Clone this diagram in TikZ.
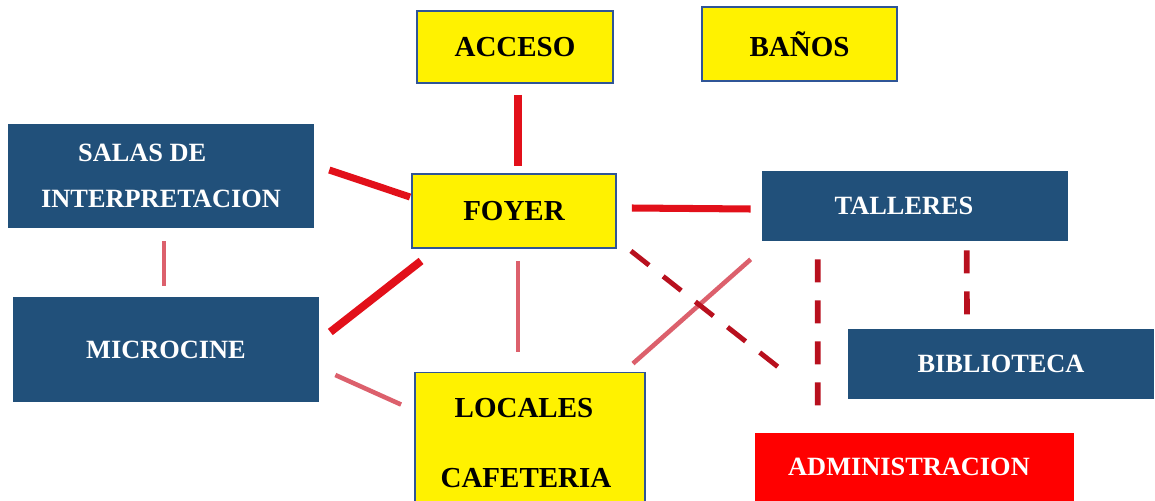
\documentclass[tikz,border=0pt]{standalone}
\usepackage{fontspec}
\setmainfont{Liberation Serif}
\usetikzlibrary{positioning,calc}

\definecolor{roomblue}{RGB}{33,80,122}
\definecolor{roomedge}{RGB}{47,85,151}
\definecolor{linkred}{RGB}{226,16,26}
\definecolor{linksoft}{RGB}{220,96,108}
\definecolor{linkdark}{RGB}{184,16,30}

\begin{document}
\begin{tikzpicture}[x=0.02cm,y=-0.02cm,
  room/.style={rectangle, inner sep=0pt, align=center,
    font=\bfseries\fontsize{15}{18}\selectfont},
  yellowroom/.style={room, fill=yellow, draw=roomedge, line width=1.1pt, text=black,
    font=\bfseries\fontsize{16.5}{19}\selectfont},
  blueroom/.style={room, fill=roomblue, text=white},
  redroom/.style={room, fill=red, text=white},
  strong/.style={line width=4pt, draw=linkred},
  soft/.style={line width=2.6pt, draw=linksoft},
  weak/.style={line width=3.2pt, draw=linkdark, dash pattern=on 0.46cm off 0.36cm}]

\useasboundingbox (0,0) rectangle (1155,500);
\clip (0,0) rectangle (1155,500);

\node[yellowroom, minimum width=3.92cm, minimum height=1.44cm] (acceso) at (515,47) {ACCESO};

\node[yellowroom, minimum width=3.9cm, minimum height=1.48cm] (banos) at (799.5,44) {BAÑOS};

\node[blueroom, minimum width=6.12cm, minimum height=2.08cm, align=left] (salas) at (161,176) {\hspace*{0.74cm}SALAS DE\\[8pt]INTERPRETACION};

\node[yellowroom, minimum width=4.08cm, minimum height=1.48cm] (foyer) at (514,211) {FOYER};

\node[blueroom, minimum width=6.12cm, minimum height=1.4cm] (talleres) at (915,206) {TALLERES\hspace*{0.44cm}};

\node[blueroom, minimum width=6.12cm, minimum height=2.1cm] (microcine) at (166,349.5) {MICROCINE};

\node[blueroom, minimum width=6.12cm, minimum height=1.4cm] (biblioteca) at (1001,364) {BIBLIOTECA};

\node[yellowroom, minimum width=4.6cm, minimum height=2.82cm] (locales) at (530,443) {LOCALES\hspace*{0.24cm}\\[21pt]CAFETERIA\hspace*{0.16cm}};

\node[redroom, minimum width=6.38cm, minimum height=1.36cm] (admin) at (914.5,467) {ADMINISTRACION\hspace*{0.22cm}};

% links to the foyer
\draw[strong] ($(acceso.south)+(3,11)$) -- ($(foyer.north)+(4,-7)$);
\draw[strong] ($(salas.east)+(15,-6)$) -- ($(foyer.west)+(-1,-14)$);
\draw[strong] ($(foyer.east)+(15,-3)$) -- ($(talleres.west)+(-11,3)$);
\draw[strong, line width=4.5pt] ($(foyer.south west)+(10,12)$) -- ($(microcine.east)+(11,-17.5)$);

\draw[soft] ($(foyer.south)+(4,12)$) -- ($(locales.north)+(-12,-20)$);
\draw[soft] ($(salas.south)+(3,13)$) -- ($(microcine.north)+(-2,-11)$);
\draw[soft] ($(microcine.east)+(16,25.5)$) -- ($(locales.north west)+(-13,33)$);
\draw[soft] ($(talleres.south west)+(-11,18)$) -- ($(locales.north east)+(-13,-8)$);

% dashed links
\draw[weak, line width=2.8pt] ($(foyer.south east)+(14,2)$) -- ($(admin.north west)+(23,-66)$);
\draw[weak] ($(talleres.south west)+(56,18)$) -- ($(admin.north west)+(63,-27)$);
\draw[weak] ($(talleres.south west)+(205,9)$) -- ($(biblioteca.north)+(-34,-14)$);
\end{tikzpicture}
\end{document}
